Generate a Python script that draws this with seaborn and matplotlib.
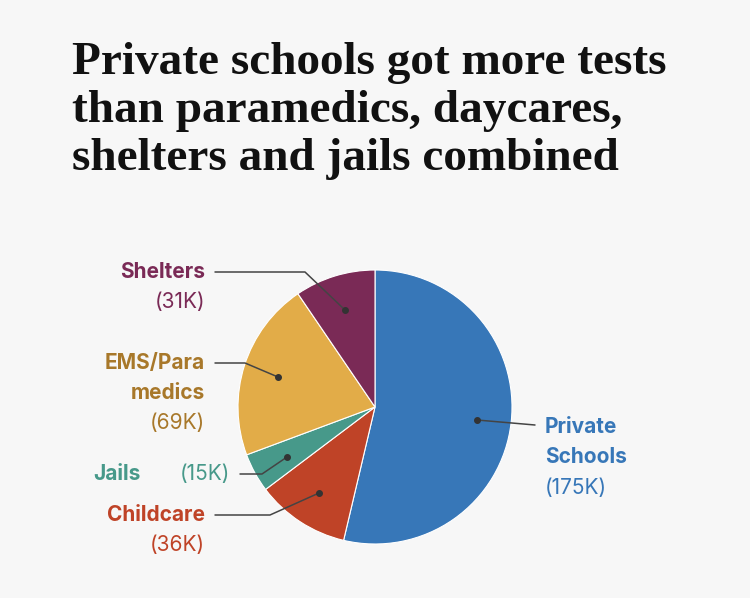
import matplotlib
matplotlib.use("Agg")
import matplotlib.pyplot as plt
import seaborn as sns

sns.set_theme(style="white")
plt.rcParams['font.family'] = ['Inter', 'DejaVu Sans']

categories = ["Private Schools", "Childcare", "Jails", "EMS/Paramedics", "Shelters"]
values = [175, 36, 15, 69, 31]
value_labels = ["(175K)", "(36K)", "(15K)", "(69K)", "(31K)"]
colors = ["#3777b8", "#bf4327", "#47998a", "#e2ac48", "#7a2a56"]

bg = "#f7f7f7"
fig = plt.figure(figsize=(7.5, 5.98), dpi=100, facecolor=bg)
fig.text(72/750, 1-42/598, "Private schools got more tests\nthan paramedics, daycares,\nshelters and jails combined",
         family=["Liberation Serif", "DejaVu Serif"], fontweight="bold", fontsize=34,
         va="top", ha="left", color="#111111", linespacing=1.18)

R = 137
cx, cy = 375, 407
ax = fig.add_axes([(cx-R)/750, (598-cy-R)/598, 2*R/750, 2*R/598])
ax.set_facecolor(bg)
ax.pie(values, colors=colors, startangle=90, counterclock=False, radius=1,
       wedgeprops=dict(edgecolor="white", linewidth=0.8))
ax.set_xlim(-1, 1); ax.set_ylim(-1, 1); ax.set_aspect("auto")
ax.axis("off")

def d(px, py):
    return ((px-cx)/R, (cy-py)/R)

def line(pts):
    xs, ys = zip(*[d(*p) for p in pts])
    ax.plot(xs, ys, color="#444444", lw=1.1, clip_on=False)
    ax.plot(xs[-1], ys[-1], "o", color="#333333", ms=4, clip_on=False)

def txt(px, py, s, c, bold=False, ha="right"):
    x, y = d(px, py)
    ax.text(x, y, s, color=c, fontsize=15, fontweight="bold" if bold else "normal",
            ha=ha, va="center", clip_on=False)

# Private Schools
line([(535, 425), (477, 420)])
txt(545, 427, "Private", colors[0], True, "left")
txt(545, 457, "Schools", colors[0], True, "left")
txt(545, 488, value_labels[0], colors[0], False, "left")
# Shelters
line([(215, 272), (305, 272), (345, 310)])
txt(205, 272, "Shelters", colors[4], True)
txt(205, 302, value_labels[4], colors[4])
# EMS
line([(215, 363), (245, 363), (278, 377)])
txt(205, 363, "EMS/Para", "#a8782a", True)
txt(205, 393, "medics", "#a8782a", True)
txt(205, 423, value_labels[3], "#a8782a")
# Jails
line([(240, 474), (262, 474), (287, 457)])
txt(141, 474, "Jails", colors[2], True)
txt(230, 474, value_labels[2], colors[2])
# Childcare
line([(215, 515), (270, 515), (319, 493)])
txt(205, 515, "Childcare", colors[1], True)
txt(205, 545, value_labels[1], colors[1])

fig.savefig("out.png", dpi=100, facecolor=bg)
